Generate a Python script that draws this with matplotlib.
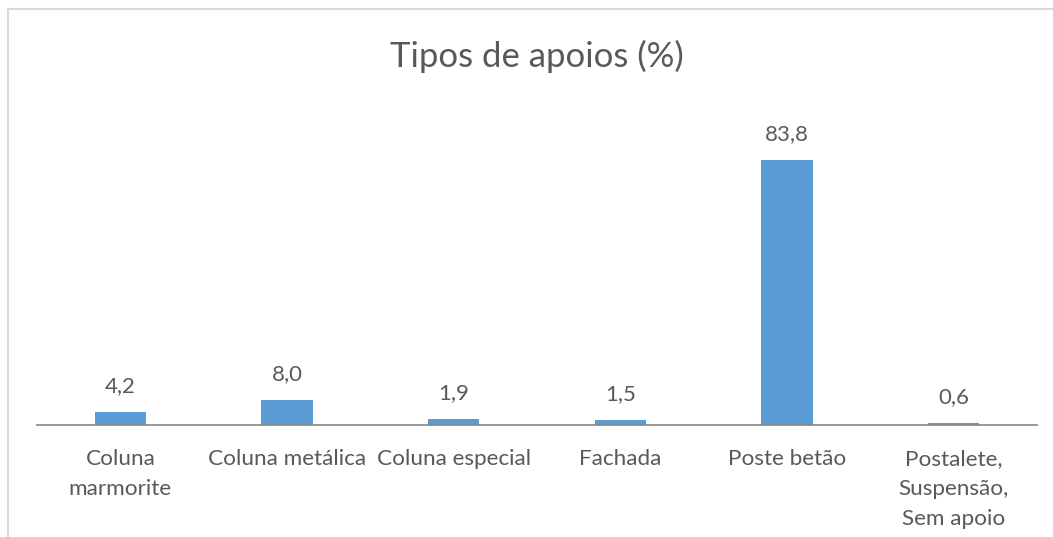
import matplotlib.pyplot as plt
from matplotlib.patches import Rectangle

categorias = ['Coluna\nmarmorite', 'Coluna metálica', 'Coluna especial',
              'Fachada', 'Poste betão', 'Postalete,\nSuspensão,\nSem apoio']
valores = [4.2, 8.0, 1.9, 1.5, 83.8, 0.6]

cor_barra = '#5B9BD5'
cor_texto = '#595959'

plt.rcParams['font.family'] = ['Lato', 'DejaVu Sans']

fig = plt.figure(figsize=(10.53, 5.37), dpi=100)
W, H = 1053, 537

# moldura do gráfico (só se vê em cima e à esquerda)
fig.patches.append(Rectangle((8 / W, -0.1), 1.2, (H - 9) / H + 0.1,
                             transform=fig.transFigure, fill=False,
                             edgecolor='#D9D9D9', linewidth=1.5))

ax = fig.add_axes([37 / W, (H - 425) / H, 1000 / W, 316 / H])
x = range(len(valores))
ax.bar(x, valores, width=0.31, color=cor_barra)
ax.set_xlim(-0.5, len(valores) - 0.5)
ax.set_ylim(0, 100)

for i, v in enumerate(valores):
    ax.annotate(f'{v:.1f}'.replace('.', ','), (i, v), xytext=(0, 11.5),
                textcoords='offset points', ha='center', va='bottom',
                fontsize=16, color=cor_texto)

ax.set_xticks(list(x))
ax.set_xticklabels(categorias, fontsize=16.2, color=cor_texto, linespacing=1.6)
ax.tick_params(axis='x', length=0, pad=17.5)
ax.set_yticks([])
for lado in ['top', 'right', 'left']:
    ax.spines[lado].set_visible(False)
ax.spines['bottom'].set_color('#868686')
ax.spines['bottom'].set_linewidth(1.2)

fig.text(537 / W, (H - 56) / H, 'Tipos de apoios (%)', ha='center', va='center',
         fontsize=25, color=cor_texto)

fig.savefig('out.png', dpi=100)
